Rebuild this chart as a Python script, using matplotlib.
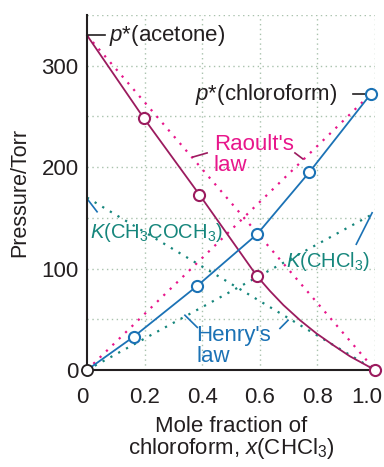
import numpy as np
import matplotlib
matplotlib.use("Agg")
from matplotlib import pyplot as plt
from matplotlib import transforms

plt.rcParams['font.family'] = ['Liberation Sans', 'DejaVu Sans']
plt.rcParams['mathtext.fontset'] = 'custom'
plt.rcParams['mathtext.rm'] = 'Liberation Sans'
plt.rcParams['mathtext.it'] = 'Liberation Sans:italic'

# measured points (x = mole fraction of chloroform, p in Torr)
x_acetone = [0.0, 0.198, 0.39, 0.589, 1.0]
p_acetone = [330, 248, 173, 93, 0]
# acetone curve
x_acetone_curve = [0.0, 0.198, 0.39, 0.589, 0.635, 0.682, 0.74, 0.797, 0.855, 0.913, 0.971, 1.0]
p_acetone_curve = [330, 248, 173, 93, 78, 64, 49, 36, 24.5, 13.5, 4.5, 0]

x_chloro = [0.0, 0.163, 0.383, 0.591, 0.772, 0.985]
p_chloro = [0, 33, 83, 134, 195, 272]

# ideal lines
raoult_acetone_x = [0.0, 1.0]
raoult_acetone_p = [330, 0]
raoult_chloro_x = [0.0, 0.985]
raoult_chloro_p = [0, 272]
henry_acetone_x = [0.0, 1.0]
henry_acetone_p = [170, 0]
henry_chloro_x = [0.0, 1.0]
henry_chloro_p = [0, 155]

xticks = [0, 0.2, 0.4, 0.6, 0.8, 1.0]
xticklabels = ['0', '0.2', '0.4', '0.6', '0.8', '1.0']
yticks = [0, 100, 200, 300]
xgrid = [0.2, 0.4, 0.6, 0.8, 1.0]
ygrid = [50, 100, 150, 200, 250, 300, 350]

purple = '#9b1b5e'
blue = '#1b72b5'
magenta = '#e8168b'
teal = '#16867c'
dark = '#231f20'
gridc = '#a9c2ad'

fig = plt.figure(figsize=(3.84, 4.67), dpi=100)
ax = fig.add_axes([87/384, 1-370/467, 288/384, 355/467])
ax.set_xlim(0, 1)
ax.set_ylim(0, 350)

# grid
for gx in xgrid:
    ax.axvline(gx, color=gridc, linestyle=(0, (1, 2.5)), linewidth=1.0, zorder=0)
for gy in ygrid:
    ax.axhline(gy, color=gridc, linestyle=(0, (1, 2.5)), linewidth=1.0, zorder=0)

ax.set_xticks(xticks)
ax.set_xticklabels(xticklabels)
ax.set_yticks(yticks)
ax.tick_params(which='both', length=0, labelsize=16, colors=dark)
ax.tick_params(axis='y', pad=6)
ax.tick_params(axis='x', pad=12)
for s in ['top', 'right']:
    ax.spines[s].set_visible(False)
for s in ['left', 'bottom']:
    ax.spines[s].set_color(dark)
    ax.spines[s].set_linewidth(1.5)

# nudge the end tick labels inward like the original
xlabs = ax.get_xticklabels()
xlabs[0].set_transform(xlabs[0].get_transform() + transforms.ScaledTranslation(-5/100, 0, fig.dpi_scale_trans))
xlabs[-1].set_transform(xlabs[-1].get_transform() + transforms.ScaledTranslation(-8/100, 0, fig.dpi_scale_trans))

dot = (0, (1, 3))
ax.plot(raoult_acetone_x, raoult_acetone_p, color=magenta, linestyle=dot, lw=1.6)
ax.plot(raoult_chloro_x, raoult_chloro_p, color=magenta, linestyle=dot, lw=1.6)
ax.plot(henry_acetone_x, henry_acetone_p, color=teal, linestyle=dot, lw=1.6)
ax.plot(henry_chloro_x, henry_chloro_p, color=teal, linestyle=dot, lw=1.6)

ax.plot(x_acetone_curve, p_acetone_curve, color=purple, lw=1.3, clip_on=False)
ax.plot(x_chloro, p_chloro, color=blue, lw=1.3, clip_on=False)
ax.plot(x_acetone[1:], p_acetone[1:], 'o', ms=8, mfc='white', mec=purple, mew=1.5, clip_on=False, zorder=5)
ax.plot(x_chloro[1:], p_chloro[1:], 'o', ms=8, mfc='white', mec=blue, mew=1.5, clip_on=False, zorder=5)
ax.plot(x_chloro[0], p_chloro[0], 'o', ms=8, mfc='white', mec=dark, mew=1.3, clip_on=False, zorder=5)

# annotations
fs = 16
ax.plot([0, 0.063], [330, 330], color=dark, lw=1.2, clip_on=False)
ax.text(0.075, 330, '$p$*(acetone)', fontsize=fs, color=dark, va='center', ha='left')
ax.plot([0.925, 0.968], [272, 272], color=dark, lw=1.2, clip_on=False)
ax.text(0.87, 272, '$p$*(chloroform)', fontsize=fs, color=dark, va='center', ha='right')

ax.text(0.44, 233, "Raoult's\nlaw", fontsize=fs, color=magenta, va='top', ha='left', linespacing=1.0)
ax.plot([0.368, 0.417], [210, 214], color=purple, lw=1.2)
ax.plot([0.722, 0.75], [214, 208], color=purple, lw=1.2)

ax.text(0.38, 44, "Henry's\nlaw", fontsize=fs, color=blue, va='top', ha='left', linespacing=1.0)
ax.plot([0.34, 0.383], [54, 42], color=blue, lw=1.2)
ax.plot([0.67, 0.698], [41, 49], color=blue, lw=1.2)

ax.text(0.01, 136, '$K$(CH$_3$COCH$_3$)', fontsize=14.5, color=teal, va='center', ha='left')
ax.plot([0.0, 0.035], [169, 156], color=blue, lw=1.2)
ax.text(0.69, 107, '$K$(CHCl$_3$)', fontsize=14.5, color=teal, va='center', ha='left')
ax.plot([0.935, 0.99], [124, 155], color=blue, lw=1.2)

ax.set_ylabel('Pressure/Torr', fontsize=15.5, color=dark, labelpad=8)
ax.set_xlabel('Mole fraction of\nchloroform, $x$(CHCl$_3$)', fontsize=16, color=dark,
              labelpad=6, linespacing=0.95)

fig.savefig('out.png', dpi=100, facecolor='white')
